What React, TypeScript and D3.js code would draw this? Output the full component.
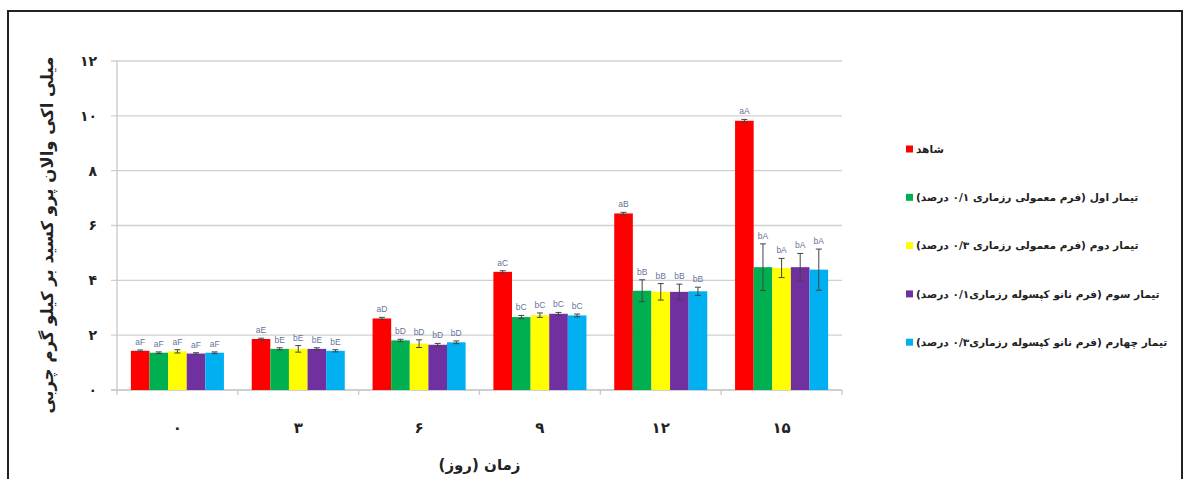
import React from 'react';
import * as d3 from 'd3';

const days = ['۰', '۳', '۶', '۹', '۱۲', '۱۵'];
const yTicks = [0, 2, 4, 6, 8, 10, 12];
const yTickLabels = ['۰', '۲', '۴', '۶', '۸', '۱۰', '۱۲'];

const seriesNames = [
    'شاهد',
    'تیمار اول (فرم معمولی رزماری ۰/۱ درصد)',
    'تیمار دوم (فرم معمولی رزماری ۰/۳ درصد)',
    'تیمار سوم (فرم نانو کپسوله رزماری۰/۱ درصد)',
    'تیمار چهارم (فرم نانو کپسوله رزماری۰/۳ درصد)',
];
const seriesColors = ['#ff0000', '#00b050', '#ffff00', '#7030a0', '#00b0f0'];

// peroxide values per day, one array per treatment
const control = [1.43, 1.86, 2.61, 4.31, 6.44, 9.82];
const treat1 = [1.36, 1.5, 1.81, 2.66, 3.62, 4.48];
const treat2 = [1.41, 1.5, 1.69, 2.73, 3.58, 4.45];
const treat3 = [1.33, 1.5, 1.65, 2.78, 3.58, 4.48];
const treat4 = [1.36, 1.43, 1.74, 2.72, 3.6, 4.39];

const controlErr = [0.03, 0.03, 0.04, 0.04, 0.04, 0.05];
const treat1Err = [0.03, 0.04, 0.04, 0.06, 0.4, 0.85];
const treat2Err = [0.06, 0.12, 0.14, 0.08, 0.3, 0.35];
const treat3Err = [0.03, 0.04, 0.05, 0.05, 0.28, 0.5];
const treat4Err = [0.03, 0.04, 0.05, 0.05, 0.15, 0.75];

// significance letters
const controlLetters = ['aF', 'aE', 'aD', 'aC', 'aB', 'aA'];
const treatLetters = ['aF', 'bE', 'bD', 'bC', 'bB', 'bA'];

const values = [control, treat1, treat2, treat3, treat4];
const errors = [controlErr, treat1Err, treat2Err, treat3Err, treat4Err];
const letters = [controlLetters, treatLetters, treatLetters, treatLetters, treatLetters];

const WIDTH = 1184, HEIGHT = 479;
const PLOT = { LEFT: 117, RIGHT: 842, TOP: 61, BOTTOM: 390 };
const FA = "'DejaVu Sans', sans-serif";

export default function App() {
    const x0 = d3.scaleBand<string>().domain(days).range([PLOT.LEFT, PLOT.RIGHT]).paddingInner(0.23).paddingOuter(0.115);
    const x1 = d3.scaleBand<number>().domain(d3.range(seriesNames.length)).range([0, x0.bandwidth()]);
    const y = d3.scaleLinear().domain([0, 12]).range([PLOT.BOTTOM, PLOT.TOP]);
    const step = x0.step();

    return (
        <svg width={WIDTH} height={HEIGHT} style={{ position: 'absolute', left: 0, top: 0, background: '#fff' }}>
            <rect x={8} y={11} width={1174} height={480} fill='#fff' stroke='#222' strokeWidth={2} />

            {/* grid */}
            {yTicks.map((t, i) => (
                <g key={`g-${i}`}>
                    <line x1={PLOT.LEFT - 6} x2={PLOT.RIGHT} y1={y(t)} y2={y(t)} stroke={t === 0 ? '#bfbfbf' : '#d0d0d0'} strokeWidth={1.3} />
                    <text x={97} y={y(t)} dy='0.35em' textAnchor='end' fontFamily={FA} fontWeight='bold' fontSize={14} fill='#222'>{yTickLabels[i]}</text>
                </g>
            ))}
            <line x1={PLOT.LEFT} x2={PLOT.LEFT} y1={PLOT.TOP} y2={PLOT.BOTTOM} stroke='#c8c8c8' strokeWidth={1.3} />
            {d3.range(days.length + 1).map(i => (
                <line key={`xt-${i}`} x1={PLOT.LEFT + i * step} x2={PLOT.LEFT + i * step} y1={PLOT.BOTTOM} y2={PLOT.BOTTOM + 5} stroke='#c8c8c8' strokeWidth={1.3} />
            ))}

            {/* bars */}
            {days.map((d, di) => (
                <g key={`grp-${di}`} transform={`translate(${x0(d)},0)`}>
                    {values.map((s, si) => {
                        const bx = x1(si) as number;
                        const bw = x1.bandwidth();
                        const v = s[di], e = errors[si][di];
                        const cx = bx + bw / 2;
                        return (
                            <g key={`bar-${si}`}>
                                <rect x={bx} y={y(v)} width={bw} height={y(0) - y(v)} fill={seriesColors[si]} />
                                <line x1={cx} x2={cx} y1={y(v + e)} y2={y(v - e)} stroke='#444' strokeWidth={1} />
                                <line x1={cx - 3} x2={cx + 3} y1={y(v + e)} y2={y(v + e)} stroke='#444' strokeWidth={1} />
                                <line x1={cx - 3} x2={cx + 3} y1={y(v - e)} y2={y(v - e)} stroke='#444' strokeWidth={1} />
                                <text x={cx} y={y(v + e) - 5} textAnchor='middle' fontFamily='Liberation Sans, sans-serif' fontSize={8.5} fill='#67739a'>{letters[si][di]}</text>
                            </g>
                        );
                    })}
                </g>
            ))}

            {/* x tick labels */}
            {days.map((d, di) => (
                <text key={`xl-${di}`} x={(x0(d) as number) + x0.bandwidth() / 2} y={428} dy='0.35em' textAnchor='middle' fontFamily={FA} fontWeight='bold' fontSize={15} fill='#222'>{d}</text>
            ))}

            {/* axis titles */}
            <text x={(PLOT.LEFT + PLOT.RIGHT) / 2} y={465} dy='0.35em' textAnchor='middle' direction='rtl' fontFamily={FA} fontWeight='bold' fontSize={15} fill='#222'>زمان (روز)</text>
            <text transform='translate(47,235) rotate(-90)' dy='0.35em' textAnchor='middle' direction='rtl' fontFamily={FA} fontWeight='bold' fontSize={16.5} fill='#222'>میلی اکی والان پرو کسید بر کیلو گرم چربی</text>

            {/* legend */}
            {seriesNames.map((n, i) => (
                <g key={`lg-${i}`} transform={`translate(906,${149 + i * 48.3})`}>
                    <rect x={0} y={-3.5} width={7} height={7} fill={seriesColors[i]} />
                    <text x={10} y={0} dy='0.35em' textAnchor='end' direction='rtl' fontFamily={FA} fontWeight='bold' fontSize={10.6} fill='#222'>{n}</text>
                </g>
            ))}
        </svg>
    );
}
